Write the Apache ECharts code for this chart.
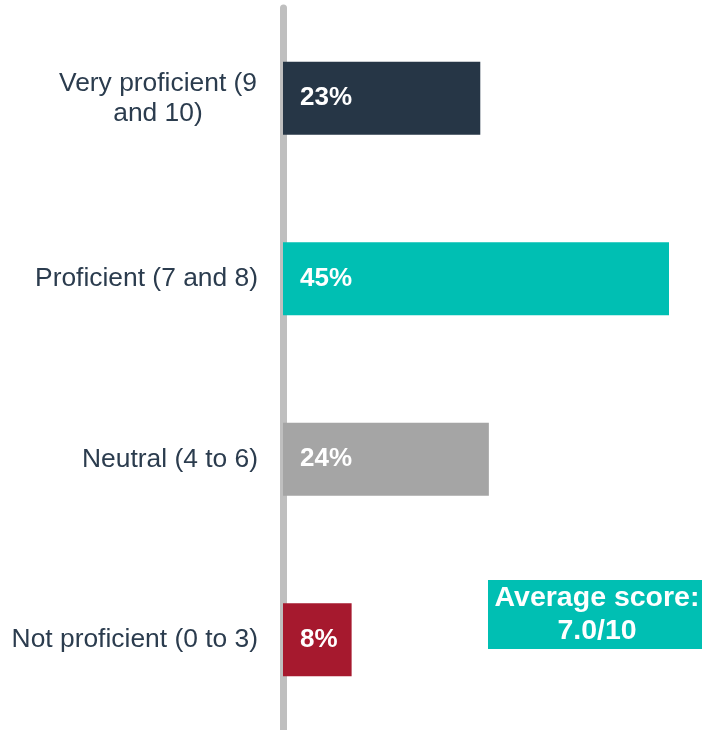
<!DOCTYPE html>
<html>
<head>
<meta charset="utf-8">
<script src="https://cdn.jsdelivr.net/npm/echarts@6/dist/echarts.min.js"></script>
<style>html,body{margin:0;padding:0;background:#fff;}#c{width:702px;height:730px;}</style>
</head>
<body>
<div id="c"></div>
<script>
const categories = ['Very proficient (9\nand 10)', 'Proficient (7 and 8)', 'Neutral (4 to 6)', 'Not proficient (0 to 3)'];
const values = [23, 45, 24, 8];
const barColors = ['#263646', '#00bfb3', '#a5a5a5', '#a6192e'];
const noteText = 'Average score:\n7.0/10';

const chart = echarts.init(document.getElementById('c'), null, {renderer: 'canvas'});
chart.setOption({
  animation: false,
  grid: {left: 283, right: 33, top: 8, bottom: -5},
  xAxis: {type: 'value', min: 0, max: 45, show: false},
  yAxis: {
    type: 'category',
    inverse: true,
    data: categories,
    axisLine: {show: true, lineStyle: {color: '#bfbfbf', width: 7}},
    axisTick: {show: false},
    axisLabel: {
      margin: 25,
      fontFamily: 'Liberation Sans, Arial, sans-serif',
      fontSize: 26.4,
      lineHeight: 30,
      color: '#2b3c4e',
      formatter: function (v) {
        if (v.indexOf('\n') >= 0) {
          return v.split('\n').map(function (l) { return '{c|' + l + '}'; }).join('\n');
        }
        return v;
      },
      rich: {
        c: {width: 200, align: 'center', fontSize: 26.4, lineHeight: 30, color: '#2b3c4e', fontFamily: 'Liberation Sans, Arial, sans-serif'}
      }
    }
  },
  series: [{
    type: 'bar',
    barWidth: 73,
    data: values.map(function (v, i) { return {value: v, itemStyle: {color: barColors[i]}}; }),
    label: {
      show: true,
      position: 'insideLeft',
      distance: 17,
      formatter: '{c}%',
      color: '#ffffff',
      fontWeight: 'bold',
      fontSize: 26,
      fontFamily: 'Liberation Sans, Arial, sans-serif'
    }
  }],
  graphic: [{
    type: 'group',
    left: 488,
    top: 580,
    children: [{
      type: 'rect',
      shape: {x: 0, y: 0, width: 214, height: 69},
      style: {fill: '#00bfb3'}
    }, {
      type: 'text',
      x: 109,
      y: 35,
      style: {
        text: noteText,
        fill: '#ffffff',
        font: 'bold 28.5px "Liberation Sans", Arial, sans-serif',
        lineHeight: 33,
        align: 'center',
        verticalAlign: 'middle'
      }
    }]
  }]
});
</script>
</body>
</html>
